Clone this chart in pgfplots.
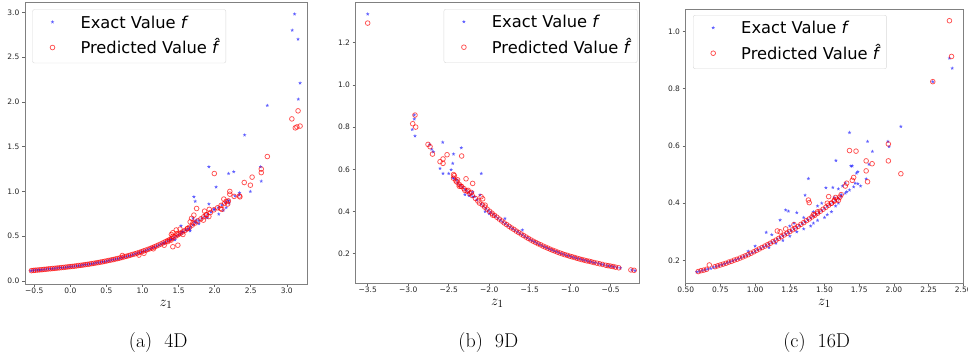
\documentclass[border=0pt]{standalone}
\usepackage{pgfplots}
\pgfplotsset{compat=1.18}
\usepackage{fontspec}
\newfontfamily\dvs{DejaVu Sans}

\pgfdeclareplotmark{fstar}{%
  \pgfpathmoveto{\pgfpointpolar{90}{\pgfplotmarksize}}%
  \pgfpathlineto{\pgfpointpolar{126}{0.42*\pgfplotmarksize}}%
  \pgfpathlineto{\pgfpointpolar{162}{\pgfplotmarksize}}%
  \pgfpathlineto{\pgfpointpolar{198}{0.42*\pgfplotmarksize}}%
  \pgfpathlineto{\pgfpointpolar{234}{\pgfplotmarksize}}%
  \pgfpathlineto{\pgfpointpolar{270}{0.42*\pgfplotmarksize}}%
  \pgfpathlineto{\pgfpointpolar{306}{\pgfplotmarksize}}%
  \pgfpathlineto{\pgfpointpolar{342}{0.42*\pgfplotmarksize}}%
  \pgfpathlineto{\pgfpointpolar{18}{\pgfplotmarksize}}%
  \pgfpathlineto{\pgfpointpolar{54}{0.42*\pgfplotmarksize}}%
  \pgfpathclose\pgfusepathqfill}

\pgfplotsset{
  panel/.style={
    scale only axis,
    anchor=south west,
    axis line style={black!50, line width=0.7pt},
    tick style={black!60, line width=0.6pt},
    tick align=outside,
    tick pos=left,
    major tick length=3pt,
    tick label style={font=\dvs\fontsize{7.5}{9}\selectfont, text=black!85},
    xticklabel style={inner sep=1pt},
    yticklabel style={inner sep=2pt, xshift=-0.5pt},
    xlabel={$z_1$},
    xlabel style={font=\fontsize{15}{17}\selectfont, at={(axis description cs:0.5,0)}, anchor=base, yshift=-22.5pt, inner sep=0pt},
    legend cell align=left,
    legend style={anchor=north west, draw=black!15, rounded corners=2pt, fill=white,
      inner xsep=8pt, inner ysep=6.5pt, column sep=8pt, row sep=10.5pt,
      font=\dvs\fontsize{16.3}{19}\selectfont,
      nodes={inner sep=0pt, text height=12pt, text depth=3pt}},
    legend image code/.code={\path[draw=none,fill=none] (0pt,-4pt) rectangle (32pt,4pt); \draw[##1] plot coordinates {(12pt,1.5pt)};},
  },
  exact/.style={only marks, mark=fstar, mark size=1.9pt, draw=none, fill=blue, fill opacity=0.62, draw opacity=0},
  pred/.style={only marks, mark=o, mark size=2.35pt, draw=red, line width=0.75pt, draw opacity=0.68, fill opacity=0},
}

\begin{document}
\begin{tikzpicture}
\useasboundingbox (0pt,0pt) rectangle (968pt,358pt);

% ---------------- (a) 4D ----------------
\begin{axis}[panel, at={(25pt,74pt)}, width=282pt, height=282pt,
  xmin=-0.629, xmax=3.28, ymin=-0.033, ymax=3.115,
  xtick={-0.5,0,0.5,1,1.5,2,2.5,3},
  xticklabels={−0.5,0.0,0.5,1.0,1.5,2.0,2.5,3.0},
  ytick={0,0.5,1,1.5,2,2.5,3},
  yticklabels={0.0,0.5,1.0,1.5,2.0,2.5,3.0},
  legend style={at={(0.0259,0.974)}}]
\addplot[exact] coordinates {
(-0.55,0.114)(-0.52,0.118)(-0.50,0.120)(-0.47,0.121)(-0.44,0.123)(-0.42,0.125)(-0.39,0.127)(-0.36,0.130)(-0.33,0.132)(-0.30,0.134)
(-0.27,0.137)(-0.24,0.140)(-0.21,0.142)(-0.18,0.144)(-0.15,0.147)(-0.12,0.149)(-0.09,0.152)(-0.06,0.154)(-0.03,0.157)(0.00,0.160)
(0.03,0.163)(0.06,0.166)(0.09,0.169)(0.12,0.172)(0.15,0.176)(0.18,0.179)(0.21,0.182)(0.24,0.186)(0.27,0.190)(0.30,0.194)
(0.33,0.198)(0.36,0.202)(0.39,0.206)(0.42,0.210)(0.45,0.215)(0.48,0.219)(0.51,0.224)(0.54,0.229)(0.57,0.234)(0.60,0.240)
(0.63,0.245)(0.66,0.251)(0.69,0.256)(0.72,0.262)(0.75,0.268)(0.78,0.275)(0.81,0.281)(0.84,0.288)(0.87,0.296)(0.90,0.303)
(0.93,0.310)(0.96,0.318)(0.99,0.326)(1.02,0.334)(1.05,0.343)(1.08,0.352)(1.11,0.361)(1.14,0.371)(1.17,0.381)(1.20,0.391)
(1.23,0.402)(1.26,0.413)(1.29,0.424)(1.32,0.436)(1.35,0.448)(1.38,0.460)(1.41,0.472)(1.44,0.487)(1.47,0.500)(1.50,0.515)
(1.53,0.530)(1.56,0.546)(1.60,0.568)(1.63,0.585)(1.66,0.603)(1.70,0.628)(1.74,0.652)(1.78,0.675)(1.82,0.700)(1.86,0.720)
(1.90,0.745)(1.95,0.770)(2.00,0.800)(2.05,0.820)(2.10,0.850)(2.15,0.875)(2.20,0.900)(2.28,0.950)
(3.108,2.98)(3.075,2.80)(3.156,2.70)(3.184,2.21)(3.16,2.03)(2.73,1.96)(2.415,1.63)(2.637,1.275)(2.646,1.115)(1.92,1.275)
(2.193,1.20)(2.264,1.22)(2.02,1.05)(1.712,0.94)(1.73,0.89)(2.495,1.00)(2.344,0.985)(2.34,0.96)(1.92,0.86)(1.986,0.80)
(1.533,0.617)(1.656,0.58)(1.745,0.68)(1.896,0.706)(2.057,0.747)(2.16,0.82)(2.12,0.79)(2.20,0.87)(2.18,0.90)(1.70,0.70)
(1.72,0.66)(1.78,0.64)(1.66,0.56)(1.60,0.57)(1.55,0.55)(1.45,0.46)(1.40,0.47)(1.30,0.42)
};
\addlegendentry{Exact Value \textit{f}}
\addplot[pred] coordinates {
(-0.54,0.116)(-0.51,0.119)(-0.485,0.121)(-0.455,0.123)(-0.425,0.125)(-0.395,0.127)(-0.365,0.130)(-0.335,0.132)(-0.305,0.135)(-0.275,0.137)
(-0.245,0.140)(-0.215,0.142)(-0.185,0.145)(-0.155,0.147)(-0.125,0.150)(-0.095,0.152)(-0.065,0.155)(-0.035,0.158)(-0.005,0.161)(0.025,0.163)
(0.055,0.166)(0.085,0.169)(0.115,0.173)(0.145,0.176)(0.175,0.179)(0.205,0.183)(0.235,0.186)(0.265,0.190)(0.295,0.194)(0.325,0.198)
(0.355,0.202)(0.385,0.206)(0.415,0.211)(0.445,0.215)(0.475,0.220)(0.505,0.225)(0.535,0.230)(0.565,0.235)(0.595,0.240)(0.625,0.246)
(0.655,0.251)(0.685,0.257)(0.715,0.263)(0.745,0.270)(0.775,0.276)(0.805,0.283)(0.835,0.290)(0.865,0.297)(0.895,0.304)(0.925,0.311)
(0.955,0.319)(0.985,0.327)(1.015,0.336)(1.045,0.344)(1.075,0.353)(1.105,0.362)(1.135,0.372)(1.165,0.382)(1.195,0.392)(1.225,0.403)
(1.255,0.414)(1.285,0.426)(1.315,0.438)(1.345,0.450)(1.375,0.462)(1.405,0.475)(1.435,0.490)(1.465,0.503)(1.495,0.518)(1.525,0.533)
(1.555,0.548)(1.59,0.565)(1.62,0.582)(1.65,0.600)(1.69,0.625)(1.73,0.648)(1.77,0.672)(1.81,0.695)(1.85,0.718)(1.89,0.740)
(1.94,0.765)(1.99,0.795)(2.04,0.818)(2.09,0.845)(2.14,0.870)(2.19,0.895)(2.27,0.945)
(3.07,1.81)(3.156,1.90)(3.118,1.71)(3.184,1.73)(3.14,1.72)(2.73,1.39)(2.646,1.25)(2.646,1.21)(2.519,1.16)(2.495,1.07)
(2.41,1.10)(1.995,1.20)(2.21,1.00)(2.21,0.97)(2.344,0.95)(2.35,0.94)(2.127,0.915)(2.16,0.89)(2.18,0.86)(1.925,0.80)
(1.75,0.81)(1.712,0.736)(2.08,0.81)(2.10,0.80)(1.49,0.40)(1.42,0.383)(1.623,0.587)(1.70,0.65)(1.844,0.68)(1.48,0.53)
(1.467,0.57)(1.396,0.457)(1.86,0.78)(1.88,0.74)(1.92,0.72)(1.68,0.70)(1.66,0.66)(1.56,0.52)(1.52,0.58)(1.42,0.50)
(1.42,0.54)(1.40,0.52)(1.30,0.40)(1.35,0.44)(0.72,0.285)(0.95,0.29)(1.02,0.31)(1.15,0.36)
};
\addlegendentry{Predicted Value \textit{\^{f}}}
\end{axis}

% ---------------- (b) 9D ----------------
\begin{axis}[panel, at={(355.7pt,75pt)}, width=283.3pt, height=281pt,
  xmin=-3.648, xmax=-0.15, ymin=0.061, ymax=1.393,
  xtick={-3.5,-3,-2.5,-2,-1.5,-1,-0.5},
  xticklabels={−3.5,−3.0,−2.5,−2.0,−1.5,−1.0,−0.5},
  ytick={0.2,0.4,0.6,0.8,1.0,1.2},
  yticklabels={0.2,0.4,0.6,0.8,1.0,1.2},
  legend style={at={(0.3106,0.975)}}]
\addplot[exact] coordinates {
(-2.10,0.435)(-2.07,0.425)(-2.04,0.414)(-2.01,0.404)(-1.98,0.396)(-1.95,0.386)(-1.92,0.377)(-1.89,0.368)(-1.86,0.358)(-1.83,0.350)
(-1.80,0.342)(-1.77,0.334)(-1.74,0.326)(-1.71,0.318)(-1.68,0.311)(-1.65,0.303)(-1.62,0.296)(-1.59,0.289)(-1.56,0.282)(-1.53,0.275)
(-1.50,0.268)(-1.47,0.262)(-1.44,0.256)(-1.41,0.250)(-1.38,0.244)(-1.35,0.239)(-1.32,0.233)(-1.29,0.228)(-1.26,0.223)(-1.23,0.218)
(-1.20,0.214)(-1.17,0.209)(-1.14,0.205)(-1.11,0.201)(-1.08,0.197)(-1.05,0.193)(-1.02,0.190)(-0.99,0.187)(-0.96,0.183)(-0.93,0.180)
(-0.90,0.177)(-0.87,0.174)(-0.84,0.171)(-0.81,0.168)(-0.78,0.165)(-0.75,0.162)(-0.72,0.159)(-0.69,0.157)(-0.65,0.154)(-0.62,0.151)
(-0.59,0.148)(-0.55,0.144)(-0.52,0.142)(-0.49,0.140)(-0.46,0.138)(-0.42,0.135)(-0.38,0.132)(-0.24,0.122)(-0.20,0.120)
(-2.15,0.455)(-2.20,0.470)(-2.22,0.480)(-2.25,0.490)(-2.28,0.500)(-2.30,0.505)(-2.33,0.515)(-2.36,0.525)(-2.39,0.535)(-2.40,0.550)
(-2.43,0.555)(-2.45,0.560)(-2.50,0.580)
(-3.50,1.336)(-2.574,0.728)(-2.344,0.702)(-2.44,0.672)(-2.097,0.58)(-2.924,0.857)(-2.924,0.838)(-2.95,0.789)(-2.916,0.758)(-2.735,0.718)
(-2.71,0.695)(-2.69,0.683)(-2.607,0.604)(-2.57,0.58)(-2.47,0.598)(-2.45,0.628)(-2.204,0.492)(-1.805,0.367)(-1.59,0.312)(-2.113,0.478)
(-2.18,0.47)(-2.25,0.475)(-2.30,0.48)(-2.05,0.40)(-2.00,0.39)
};
\addlegendentry{Exact Value \textit{f}}
\addplot[pred] coordinates {
(-2.085,0.432)(-2.055,0.421)(-2.025,0.411)(-1.995,0.401)(-1.965,0.392)(-1.935,0.382)(-1.905,0.373)(-1.875,0.364)(-1.845,0.355)(-1.815,0.346)
(-1.785,0.338)(-1.755,0.330)(-1.725,0.322)(-1.695,0.315)(-1.665,0.307)(-1.635,0.300)(-1.605,0.293)(-1.575,0.286)(-1.545,0.279)(-1.515,0.272)
(-1.485,0.265)(-1.455,0.259)(-1.425,0.253)(-1.395,0.247)(-1.365,0.242)(-1.335,0.236)(-1.305,0.231)(-1.275,0.226)(-1.245,0.221)(-1.215,0.216)
(-1.185,0.212)(-1.155,0.207)(-1.125,0.203)(-1.095,0.199)(-1.065,0.195)(-1.035,0.192)(-1.005,0.188)(-0.975,0.185)(-0.945,0.182)(-0.915,0.178)
(-0.885,0.175)(-0.855,0.172)(-0.825,0.169)(-0.795,0.166)(-0.765,0.164)(-0.735,0.161)(-0.705,0.158)(-0.67,0.155)(-0.635,0.152)(-0.60,0.149)
(-0.56,0.145)(-0.53,0.143)(-0.50,0.141)(-0.47,0.139)(-0.44,0.136)(-0.40,0.133)(-0.25,0.123)(-0.21,0.121)
(-2.14,0.450)(-2.17,0.462)(-2.21,0.476)(-2.24,0.486)(-2.27,0.496)(-2.31,0.508)(-2.34,0.518)(-2.37,0.528)(-2.41,0.545)(-2.44,0.558)
(-3.50,1.293)(-2.916,0.857)(-2.944,0.816)(-2.907,0.80)(-2.755,0.718)(-2.73,0.707)(-2.70,0.672)(-2.607,0.636)(-2.57,0.649)(-2.57,0.628)
(-2.52,0.669)(-2.34,0.663)(-2.43,0.57)(-2.44,0.575)(-2.204,0.533)(-2.286,0.555)(-2.40,0.54)(-2.37,0.52)(-2.26,0.50)(-2.22,0.49)
(-2.10,0.47)(-2.08,0.46)(-1.957,0.383)(-2.05,0.43)(-2.12,0.44)(-2.30,0.50)(-2.35,0.52)(-2.39,0.55)
};
\addlegendentry{Predicted Value \textit{\^{f}}}
\end{axis}

% ---------------- (c) 16D ----------------
\begin{axis}[panel, at={(685.7pt,75pt)}, width=277.6pt, height=274pt,
  xmin=0.5, xmax=2.5, ymin=0.121, ymax=1.079,
  xtick={0.5,0.75,1,1.25,1.5,1.75,2,2.25,2.5},
  xticklabels={0.50,0.75,1.00,1.25,1.50,1.75,2.00,2.25,2.50},
  ytick={0.2,0.4,0.6,0.8,1.0},
  yticklabels={0.2,0.4,0.6,0.8,1.0},
  legend style={at={(0.0263,0.978)}}]
\addplot[exact] coordinates {
(0.58,0.160)(0.60,0.162)(0.62,0.165)(0.64,0.167)(0.66,0.170)(0.68,0.172)(0.70,0.176)(0.72,0.179)(0.74,0.182)(0.76,0.185)
(0.78,0.188)(0.80,0.192)(0.82,0.195)(0.84,0.199)(0.86,0.202)(0.88,0.206)(0.90,0.210)(0.92,0.214)(0.94,0.218)(0.96,0.222)
(0.98,0.227)(1.00,0.232)(1.02,0.237)(1.04,0.242)(1.06,0.247)(1.08,0.252)(1.10,0.257)(1.12,0.263)(1.14,0.268)(1.16,0.274)
(1.18,0.280)(1.20,0.286)(1.22,0.292)(1.24,0.298)(1.26,0.304)(1.28,0.310)(1.30,0.316)(1.32,0.322)(1.34,0.329)(1.36,0.335)
(1.38,0.342)(1.40,0.348)(1.42,0.355)(1.44,0.362)(1.46,0.368)(1.48,0.375)(1.50,0.382)(1.52,0.389)(1.54,0.396)(1.56,0.403)
(1.58,0.410)(1.60,0.417)(1.62,0.424)(1.65,0.435)(1.68,0.446)(1.71,0.457)(1.74,0.468)
(1.68,0.647)(1.81,0.616)(1.845,0.581)(1.582,0.549)(1.384,0.486)(1.36,0.428)(1.22,0.376)(1.24,0.372)(1.18,0.341)(1.08,0.298)
(1.30,0.367)(1.51,0.454)(1.56,0.455)(2.05,0.668)(1.957,0.616)(1.965,0.598)(2.28,0.825)(2.40,0.907)(2.42,0.872)(1.82,0.536)
(1.80,0.485)(1.70,0.53)(1.69,0.53)(1.73,0.505)(1.74,0.51)(1.72,0.47)(1.66,0.44)(1.62,0.43)(1.60,0.40)(1.58,0.39)
(1.55,0.37)(1.52,0.36)(1.50,0.35)(1.45,0.34)(1.42,0.33)(1.40,0.32)(1.35,0.31)(1.30,0.30)(1.25,0.285)(1.20,0.27)
(1.15,0.26)(1.10,0.245)(1.45,0.39)(1.48,0.40)(1.42,0.37)(1.35,0.35)(1.28,0.33)(1.25,0.32)(1.12,0.29)(1.00,0.25)
(0.95,0.232)(1.63,0.46)(1.57,0.42)(1.76,0.46)(1.65,0.47)(1.60,0.45)
};
\addlegendentry{Exact Value \textit{f}}
\addplot[pred] coordinates {
(0.59,0.161)(0.61,0.164)(0.63,0.166)(0.65,0.169)(0.71,0.178)(0.73,0.181)(0.75,0.184)(0.77,0.187)(0.79,0.190)(0.81,0.194)
(0.83,0.197)(0.85,0.201)(0.87,0.204)(0.89,0.208)(0.91,0.212)(0.93,0.216)(0.95,0.220)(0.97,0.225)(0.99,0.230)(1.01,0.235)
(1.03,0.240)(1.05,0.245)(1.07,0.250)(1.09,0.255)(1.11,0.260)(1.13,0.266)(1.15,0.271)(1.17,0.277)(1.19,0.283)(1.21,0.289)
(1.23,0.295)(1.25,0.301)(1.27,0.307)(1.29,0.313)(1.31,0.319)(1.33,0.326)(1.35,0.332)(1.37,0.339)(1.39,0.345)(1.41,0.352)
(1.43,0.358)(1.45,0.365)(1.47,0.372)(1.49,0.379)(1.51,0.386)(1.53,0.393)(1.55,0.400)(1.57,0.407)(1.59,0.414)(1.61,0.421)
(2.28,0.825)(2.40,1.038)(2.415,0.913)(2.05,0.503)(1.96,0.607)(1.96,0.548)(1.68,0.584)(1.727,0.582)(1.80,0.548)(1.80,0.513)
(1.843,0.538)(1.81,0.475)(1.384,0.411)(1.39,0.402)(1.16,0.303)(1.53,0.423)(0.67,0.184)(1.70,0.48)(1.71,0.49)(1.65,0.46)
(1.66,0.47)(1.62,0.43)(1.58,0.42)(1.55,0.40)(1.57,0.41)(1.60,0.41)(1.52,0.40)(1.45,0.37)(1.42,0.36)(1.28,0.325)
(1.22,0.31)(1.18,0.30)
};
\addlegendentry{Predicted Value \textit{\^{f}}}
\end{axis}

\node[anchor=base, font=\fontsize{20}{22}\selectfont] at (158.3pt,10.5pt) {(a)\hspace{12pt}4D};
\node[anchor=base, font=\fontsize{20}{22}\selectfont] at (488.3pt,10.5pt) {(b)\hspace{12pt}9D};
\node[anchor=base, font=\fontsize{20}{22}\selectfont] at (816.7pt,10.5pt) {(c)\hspace{12pt}16D};
\end{tikzpicture}
\end{document}
